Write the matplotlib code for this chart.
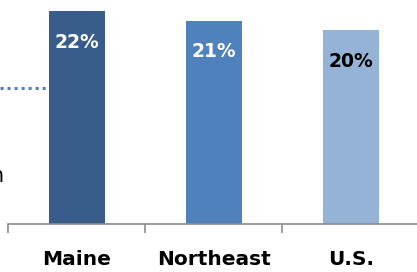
import matplotlib
matplotlib.use('Agg')
import matplotlib.pyplot as plt

regions = ['Maine', 'Northeast', 'U.S.']
shares = [22, 21, 20]
label_text = ['22%', '21%', '20%']
bar_colors = ['#385D8A', '#4F81BD', '#95B3D7']
label_colors = ['white', 'white', 'black']
reference_level = 14

fig = plt.figure(figsize=(4.17, 2.72), dpi=100)
ax = fig.add_axes([0, 48 / 272, 1, 224 / 272])

x = range(len(regions))
bars = ax.bar(x, shares, width=0.41, color=bar_colors, zorder=2)

ax.set_xlim(-0.562, 2.482)
ax.set_ylim(0, 23.14)

for bar, txt, col in zip(bars, label_text, label_colors):
    ax.annotate(txt, (bar.get_x() + bar.get_width() / 2, bar.get_height()),
                xytext=(0, -22.5), textcoords='offset points',
                ha='center', va='center', fontsize=13.5, fontweight='bold',
                color=col)

# dotted reference line coming in from the left
ax.plot([-0.562, -0.2], [reference_level, reference_level], color='#4F81BD',
        lw=2.2, linestyle=(0, (1, 1.3)), dash_capstyle='butt', zorder=1)

# cropped text fragment at left edge (rest of the label lies outside the crop)
ax.text(-0.54, 5.0, 'n', ha='right', va='center', fontsize=15, color='black')

for s in ['top', 'right', 'left']:
    ax.spines[s].set_visible(False)
ax.spines['bottom'].set_bounds(-0.5, 2.482)
ax.spines['bottom'].set_color('#8C8C8C')
ax.spines['bottom'].set_linewidth(1.2)

ax.set_yticks([])
ax.set_xticks(list(x))
ax.set_xticklabels(regions, fontsize=14.5, fontweight='bold')
ax.tick_params(axis='x', which='major', length=0, pad=19)
ax.set_xticks([-0.5, 0.5, 1.5], minor=True)
ax.tick_params(axis='x', which='minor', length=6.5, width=1.2, color='#8C8C8C',
               direction='out')

fig.savefig('out.png', dpi=100)
